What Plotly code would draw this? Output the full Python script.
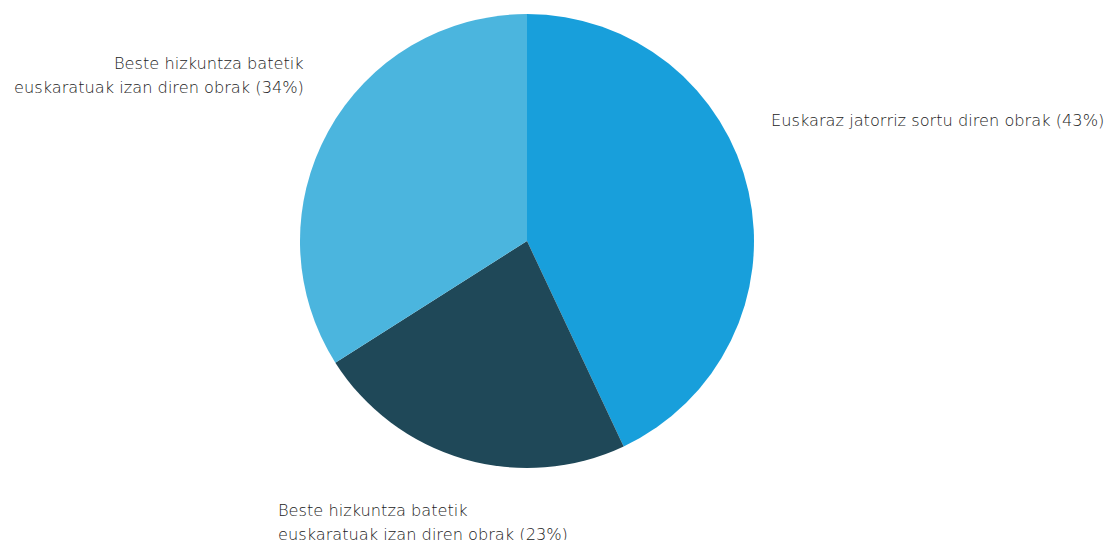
import plotly.graph_objects as go

labels = [
    "Euskaraz jatorriz sortu diren obrak",
    "Beste hizkuntza batetik euskaratuak izan diren obrak",
    "Beste hizkuntza batetik euskaratuak izan diren obrak ",
]
values = [43, 23, 34]
colors = ["#189fdb", "#1f4858", "#4bb5de"]

# page has an 8px body margin; figure coordinates are page coordinates minus 8
OFF = 8
W, H = 1112 - OFF, 540 - OFF
cx, cy, r = 527 - OFF, 241 - OFF, 227

fig = go.Figure(go.Pie(
    labels=labels,
    values=values,
    sort=False,
    direction="clockwise",
    rotation=0,
    marker=dict(colors=colors, line=dict(width=0)),
    textinfo="none",
    hoverinfo="label+percent",
    showlegend=False,
    domain=dict(x=[(cx - r) / W, (cx + r) / W], y=[1 - (cy + r) / H, 1 - (cy - r) / H]),
))

# label placement: (x, first-line y) in page pixels, anchor side, line break position
label_pos = [
    dict(x=769, y=121, xanchor="left", split=None),
    dict(x=276, y=510, xanchor="left", split="batetik"),
    dict(x=306, y=63, xanchor="right", split="batetik"),
]
LINE = 24
for lab, val, p in zip(labels, values, label_pos):
    full = f"{lab.strip()} ({val}%)"
    if p["split"]:
        i = full.index(p["split"]) + len(p["split"])
        lines = [full[:i], full[i:].strip()]
    else:
        lines = [full]
    for k, line in enumerate(lines):
        fig.add_annotation(
            x=(p["x"] - OFF) / W, y=1 - (p["y"] + k * LINE - OFF) / H,
            xref="paper", yref="paper",
            text=line, showarrow=False,
            xanchor=p["xanchor"], yanchor="middle",
            font=dict(family="DejaVu Sans", size=16.2, color="#222222", weight=300),
        )

fig.update_layout(
    width=W, height=H,
    margin=dict(l=0, r=0, t=0, b=0),
    paper_bgcolor="white", plot_bgcolor="white",
)
fig.write_html("out.html")
